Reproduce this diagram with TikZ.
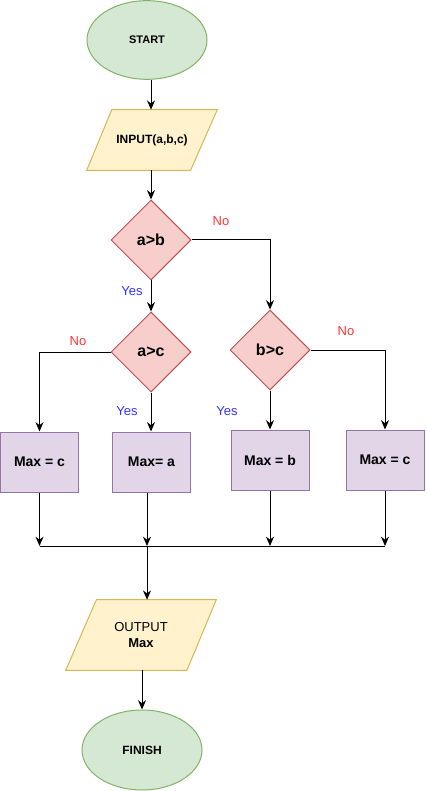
\documentclass[tikz,border=0pt]{standalone}
\usepackage{fontspec}
\setmainfont{Liberation Sans}
\usetikzlibrary{shapes.geometric,arrows.meta,backgrounds}
\definecolor{termfill}{HTML}{D5E8D4}
\definecolor{termline}{HTML}{82B366}
\definecolor{iofill}{HTML}{FFF2CC}
\definecolor{ioline}{HTML}{D6B656}
\definecolor{testfill}{HTML}{F8CECC}
\definecolor{testline}{HTML}{B85450}
\definecolor{maxfill}{HTML}{E1D5E7}
\definecolor{maxline}{HTML}{9673A6}
\definecolor{nored}{HTML}{FF3333}
\definecolor{yesblue}{HTML}{3333FF}
\begin{document}
\begin{tikzpicture}[x=0.75pt,y=-0.75pt,
    terminal/.style={ellipse,draw=termline,fill=termfill,line width=0.75pt,
        minimum width=90pt,minimum height=59pt,inner sep=0pt},
    inout/.style={rectangle,inner sep=0pt},
    iobox/.style={draw=ioline,fill=iofill,line width=0.75pt,line join=miter},
    decision/.style={diamond,draw=testline,fill=testfill,line width=0.75pt,
        minimum width=60pt,minimum height=60pt,inner sep=0pt,
        font=\bfseries\fontsize{12}{14}\selectfont},
    maxbox/.style={rectangle,draw=maxline,fill=maxfill,line width=0.75pt,
        minimum width=58.5pt,minimum height=45pt,inner sep=0pt,
        font=\bfseries\fontsize{10.5}{12}\selectfont},
    nolabel/.style={text=nored,font=\fontsize{9.75}{11}\selectfont},
    yeslabel/.style={text=yesblue,font=\fontsize{9.75}{11}\selectfont},
    link/.style={draw=black,line width=0.75pt},
    flow/.style={link,-{Stealth[length=7pt,width=6pt]}}]
    \useasboundingbox (0,0) rectangle (426,791);

    \node (start) [terminal,font=\bfseries\fontsize{8.25}{10}\selectfont] at (147,40) {START};
    \node (input) [inout,minimum width=97.5pt,minimum height=45pt,
        font=\bfseries\fontsize{9}{11}\selectfont] at (152,140) {INPUT(a,b,c)};
    \node (ab) [decision] at (151,240) {a>b};
    \node (ac) [decision] at (151,352) {a>c};
    \node (bc) [decision] at (270,350) {b>c};
    \node (max c left) [maxbox] at (39.5,462) {Max = c};
    \node (max a) [maxbox] at (151.5,462) {Max= a};
    \node (max b) [maxbox] at (270,460) {Max = b};
    \node (max c right) [maxbox] at (385,460) {Max = c};
    \node (output) [inout,minimum width=112.5pt,minimum height=52.5pt,align=center,
        font=\fontsize{9.75}{11.5}\selectfont] at (141,635) {OUTPUT\\\textbf{Max}};
    \node (finish) [terminal,minimum height=60pt,font=\bfseries\fontsize{9}{11}\selectfont]
        at (142,750) {FINISH};

    % the two slanted boxes, behind their text
    \begin{scope}[on background layer]
        \draw[iobox] ([xshift=18.75pt]input.north west) -- (input.north east)
            -- ([xshift=-20pt]input.south east) -- (input.south west) -- cycle;
        \draw[iobox] ([xshift=23pt]output.north west) -- (output.north east)
            -- ([xshift=-22pt]output.south east) -- (output.south west) -- cycle;
    \end{scope}

    % branch labels
    \node (no ab) [nolabel] at (221,221) {No};
    \node (yes ab) [yeslabel] at (132,291) {Yes};
    \node (no ac) [nolabel] at (78,341) {No};
    \node (yes ac) [yeslabel] at (127,411) {Yes};
    \node (yes bc) [yeslabel] at (227,411) {Yes};
    \node (no bc) [nolabel] at (346,331) {No};

    % where the four results meet
    \coordinate (join c left) at (39.5,546);
    \coordinate (join a) at (147,546);
    \coordinate (join b) at (270,546);
    \coordinate (join c right) at (385,546);

    \draw[flow] (start.south -| ab.north) -- (input.north -| ab.north);
    \draw[flow] (input.south -| ab.north) -- (ab.north);
    \draw[flow] (ab.south) -- (ac.north);
    \draw[flow] (ab.east) -| (bc.north);
    \draw[flow] (ac.west) -| (max c left.north);
    \draw[flow] (ac.south) -- (ac.south |- max a.north);
    \draw[flow] (bc.south) -- (max b.north);
    \draw[flow] (bc.east) -| (max c right.north);
    \draw[link] (join c left) -- (join c right);
    \draw[flow] (max c left.south) -- (join c left);
    \draw[flow] (max a.south -| join a) -- (join a);
    \draw[flow] (max b.south) -- (join b);
    \draw[flow] (max c right.south) -- (join c right);
    \draw[flow] (join a) -- (join a |- output.north);
    \draw[flow] (output.south -| finish.north) -- (finish.north);
\end{tikzpicture}
\end{document}
